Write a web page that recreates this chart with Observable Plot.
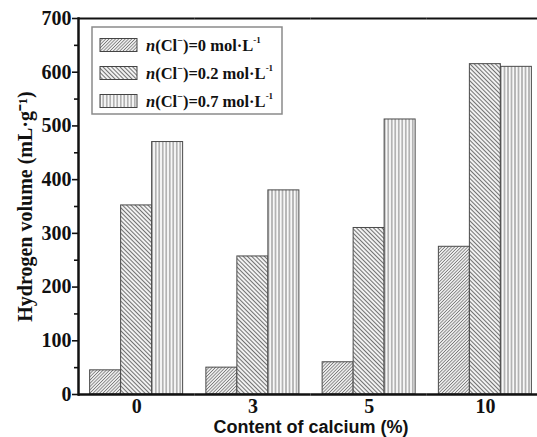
<!DOCTYPE html>
<html><head><meta charset="utf-8">
<script src="https://cdn.jsdelivr.net/npm/d3@7"></script>
<script src="https://cdn.jsdelivr.net/npm/@observablehq/plot@0.6"></script>
<style>
html,body{margin:0;padding:0;background:#fff;overflow:hidden;width:537px;height:437px}
#chart svg{max-width:none !important}
</style></head><body><div id="chart"></div>
<script>
// ---- data ----
const contents = ["0", "3", "5", "10"];            // Content of calcium (%)
const chlorides = ["0", "0.2", "0.7"];             // n(Cl-) mol/L
const vol0 = [45, 50, 60, 275];
const vol02 = [352, 257, 310, 615];
const vol07 = [470, 380, 512, 610];
const yTicks = [0, 100, 200, 300, 400, 500, 600, 700];
const yMinorTicks = [50, 150, 250, 350, 450, 550, 650];
const xLabel = "Content of calcium (%)";
const yLabel = "Hydrogen volume (mL·g⁻¹)";

const seriesValues = [vol0, vol02, vol07];
const data = [];
contents.forEach((c, i) => chlorides.forEach((cl, j) => data.push({content: c, chloride: cl, volume: seriesValues[j][i]})));

const patternIds = ["hatch0", "hatch1", "hatch2"];
const serif = "'Liberation Serif','Times New Roman',serif";
const sans = "'Liberation Sans',Arial,sans-serif";

const plot = Plot.plot({
  width: 543, height: 437,
  marginLeft: 78, marginRight: 0, marginTop: 18, marginBottom: 43,
  fx: {domain: contents, paddingInner: 0, paddingOuter: 0, round: false},
  x: {domain: chlorides, paddingInner: 0, paddingOuter: 0.375, axis: null, round: false},
  y: {domain: [0, 700]},
  color: {domain: chlorides, range: patternIds.map(id => `url(#${id})`)},
  style: {background: "white", color: "#111", overflow: "visible"},
  marks: [
    Plot.barY(data, {fx: "content", x: "chloride", y: "volume", fill: "chloride", stroke: "#4a4a4a", strokeWidth: 1}),
    Plot.ruleY([0], {stroke: "#111", strokeWidth: 2.5}),
    Plot.ruleY([700], {stroke: "#111", strokeWidth: 2}),
    Plot.frame({anchor: "left", facetAnchor: "left", stroke: "#111", strokeWidth: 2.5}),
    Plot.frame({anchor: "right", facetAnchor: "right", stroke: "#111", strokeWidth: 2}),
    Plot.axisY({ticks: yTicks, tickSize: 6, tickPadding: 1, strokeWidth: 1.6, tickFormat: d => d,
      fontSize: 20, fontFamily: serif, fontWeight: "bold",
      label: yLabel, labelAnchor: "center", labelArrow: "none", labelOffset: 61}),
    Plot.axisY({ticks: yMinorTicks, tickSize: 4, strokeWidth: 1.6, tickFormat: () => "", label: null}),
    Plot.axisFx({anchor: "bottom", tickSize: 0, tickPadding: 4, fontSize: 20, fontFamily: serif, fontWeight: "bold", label: null}),
    Plot.axisFx({anchor: "bottom", tickSize: 0, tickFormat: () => "", fontSize: 18, fontFamily: sans, fontWeight: "bold",
      label: xLabel, labelAnchor: "center", labelArrow: "none", labelOffset: 38})
  ]
});
plot.style.maxWidth = "none";
document.getElementById("chart").appendChild(plot);

// ---- hatch patterns ----
const svg = d3.select(plot);
const defs = svg.insert("defs", ":first-child");
function addHatch(id, angle, spacing, color, width) {
  const p = defs.append("pattern").attr("id", id).attr("patternUnits", "userSpaceOnUse")
    .attr("width", spacing).attr("height", spacing).attr("patternTransform", `rotate(${angle})`);
  p.append("rect").attr("width", spacing).attr("height", spacing).attr("fill", "#f8f8f8");
  p.append("line").attr("x1", spacing / 2).attr("y1", -1).attr("x2", spacing / 2).attr("y2", spacing + 1)
    .attr("stroke", color).attr("stroke-width", width);
}
addHatch("hatch0", 45, 2.3, "#7a7a7a", 0.9);
addHatch("hatch1", -45, 3.0, "#727272", 1.1);
addHatch("hatch2", 0, 3.5, "#8a8a8a", 1.1);

// ---- legend ----
const lg = svg.append("g").attr("font-family", serif).attr("font-weight", "bold").attr("font-size", 16.5)
  .attr("fill", "#111").attr("text-anchor", "start");
lg.append("rect").attr("x", 92).attr("y", 27).attr("width", 190).attr("height", 87)
  .attr("fill", "white").attr("stroke", "#8a8a8a").attr("stroke-width", 1.5);
chlorides.forEach((cl, j) => {
  const cy = 45 + 28 * j;
  lg.append("rect").attr("x", 100).attr("y", cy - 6.5).attr("width", 37).attr("height", 13)
    .attr("fill", `url(#${patternIds[j]})`).attr("stroke", "#444").attr("stroke-width", 1);
  const t = lg.append("text").attr("x", 146).attr("y", cy + 6);
  t.append("tspan").attr("font-style", "italic").text("n");
  t.append("tspan").text("(Cl");
  t.append("tspan").attr("font-size", 10).attr("dy", -7).text("−");
  t.append("tspan").attr("dy", 7).text(`)=${cl} mol·L`);
  t.append("tspan").attr("font-size", 9).attr("dy", -8).text("-1");
});
</script>
</body></html>
